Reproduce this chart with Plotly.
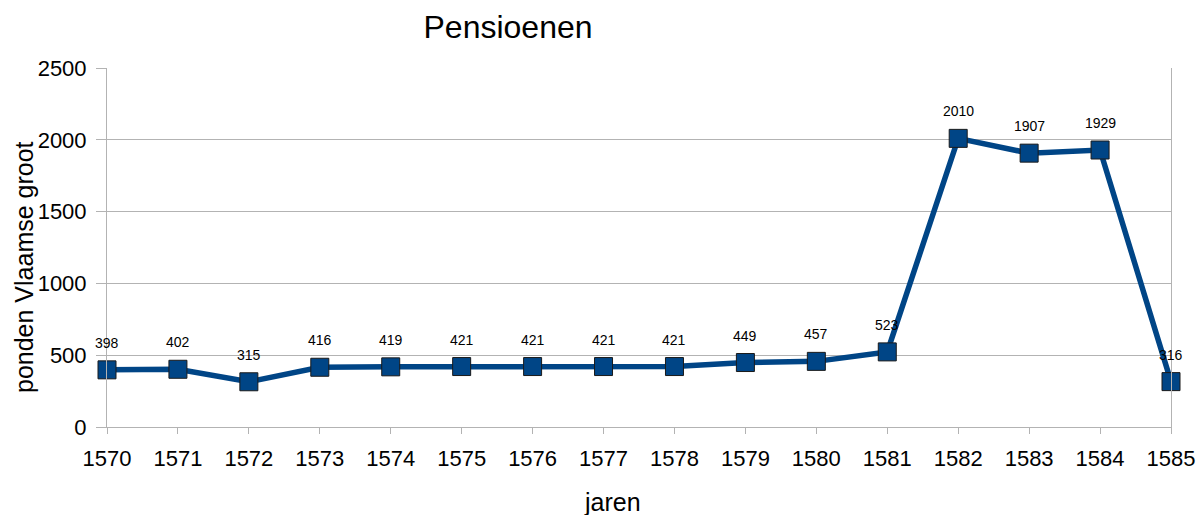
import plotly.graph_objects as go

years = [1570, 1571, 1572, 1573, 1574, 1575, 1576, 1577, 1578, 1579, 1580, 1581, 1582, 1583, 1584, 1585]
values = [398, 402, 315, 416, 419, 421, 421, 421, 421, 449, 457, 523, 2010, 1907, 1929, 316]
labels = [str(v) for v in values]

FONT = "Liberation Sans, Arial"

fig = go.Figure()
fig.add_trace(go.Scatter(
    x=years, y=values, mode="lines+markers",
    line=dict(color="#004586", width=5.5),
    marker=dict(symbol="square", size=18, color="#004586", line=dict(color="#1a1a1a", width=1)),
    cliponaxis=False,
))

for xv, yv, t in zip(years, values, labels):
    fig.add_annotation(x=xv, y=yv, text=t, showarrow=False, yshift=27,
                       font=dict(family=FONT, size=14, color="black"))

W, H = 1196, 507
L, R, T, B = 99, 33, 60, 88
PW, PH = W - L - R, H - T - B

# axis titles placed as annotations (offset like the reference)
fig.add_annotation(text="jaren", xref="paper", yref="paper", x=(604 - L) / PW, y=-75 / PH,
                   xanchor="center", yanchor="middle", showarrow=False,
                   font=dict(family=FONT, size=25, color="black"))
fig.add_annotation(text="ponden Vlaamse groot", xref="paper", yref="paper", x=(16 - L) / PW,
                   y=(T + PH - 259) / PH, xanchor="center", yanchor="middle", textangle=-90,
                   showarrow=False, font=dict(family=FONT, size=25, color="black"))

fig.update_layout(
    width=W, height=H,
    margin=dict(l=L, r=R, t=T, b=B, autoexpand=False),
    paper_bgcolor="white", plot_bgcolor="white",
    showlegend=False,
    font=dict(family=FONT, color="black"),
    title=dict(text="Pensioenen", x=500/W, xanchor="center", y=1-19/H, yanchor="middle",
               font=dict(size=32, color="black")),
)
fig.update_xaxes(
    range=[1570, 1585], tickmode="array", tickvals=years, ticktext=[str(y) for y in years],
    showgrid=False, zeroline=False, showline=True, linecolor="#b3b3b3", linewidth=1,
    ticks="outside", ticklen=6, tickcolor="#b3b3b3", ticklabelstandoff=6, automargin=False,
    tickfont=dict(size=22),
)
fig.update_yaxes(
    range=[0, 2500], tickvals=[0, 500, 1000, 1500, 2000, 2500],
    showgrid=True, gridcolor="#b3b3b3", gridwidth=1, zeroline=False,
    showline=True, mirror=True, linecolor="#b3b3b3", linewidth=1, automargin=False,
    ticks="outside", ticklen=10, tickcolor="#b3b3b3", ticklabelstandoff=5,
    tickfont=dict(size=22),
)

fig.write_html("out.html")
